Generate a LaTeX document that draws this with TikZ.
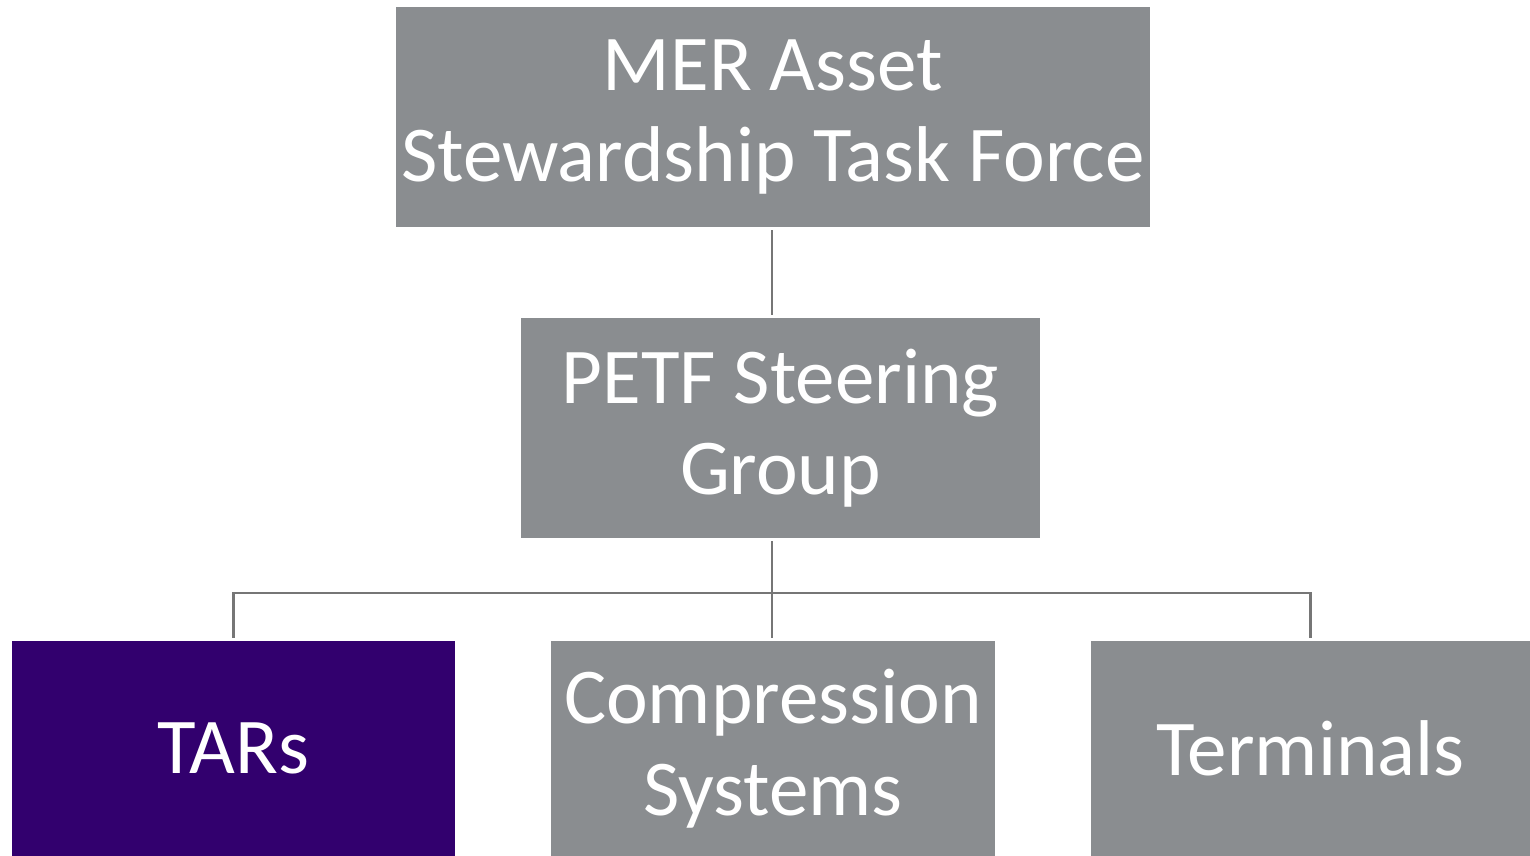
\documentclass[tikz,border=0pt]{standalone}
\usepackage{fontspec}
\setmainfont{Carlito}
\definecolor{boxgray}{HTML}{8A8D90}
\definecolor{boxpurple}{HTML}{32006E}
\definecolor{linegray}{HTML}{767676}

\begin{document}
\begin{tikzpicture}[
    box/.style = {rectangle, fill = boxgray, text = white, align = center,
      inner sep = 0pt, font = \fontsize{45}{52}\selectfont},
    link/.style = {draw = linegray, line width = 1.4pt, shorten <= 0.06cm, shorten >= 0.06cm}
  ]

    \useasboundingbox (0,0) rectangle (30.6,17.12);

    \node[box,
    minimum width = 15.08cm,
    minimum height = 4.4cm] (top) at (15.46,14.78) {MER Asset\\Stewardship Task Force};

    \node[box,
    minimum width = 10.38cm,
    minimum height = 4.4cm] (mid) at (15.61,8.56) {PETF Steering\\Group};

    \node[box, fill = boxpurple,
    minimum width = 8.86cm,
    minimum height = 4.3cm] (tars) at (4.67,2.15) {TARs};

    \node[box,
    minimum width = 8.88cm,
    minimum height = 4.3cm] (comp) at (15.46,2.15) {Compression\\Systems};

    \node[box,
    minimum width = 8.78cm,
    minimum height = 4.3cm] (term) at (26.21,2.15) {Terminals};

    \coordinate (hub) at (15.44,5.26);

      \draw[link] (hub |- top.south) -- (hub |- mid.north);
      \draw[link] (hub |- mid.south) -- (hub |- comp.north);
      \draw[link] (tars.north) |- (hub) -| (term.north);
  \end{tikzpicture}
\end{document}
